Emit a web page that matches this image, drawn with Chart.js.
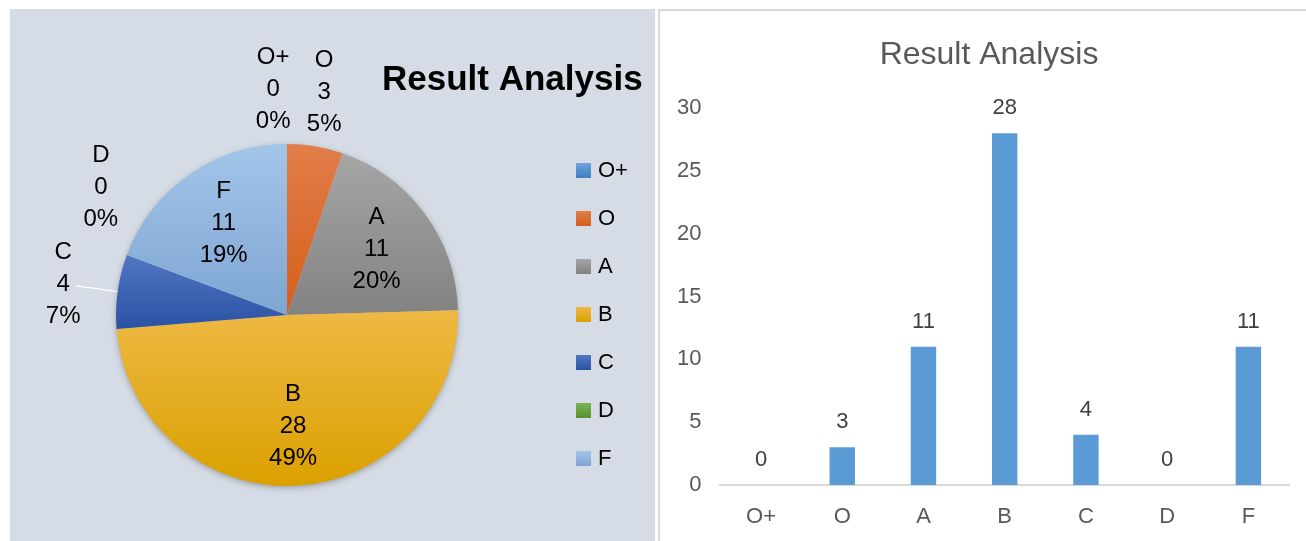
<!DOCTYPE html>
<html><head><meta charset="utf-8">
<script src="https://cdn.jsdelivr.net/npm/chart.js@4.4.0/dist/chart.umd.min.js"></script>
<style>
html,body{margin:0;padding:0;background:#fff;width:1306px;height:541px;overflow:hidden;}
#left{position:absolute;left:10px;top:9px;width:645px;height:532px;background:#d6dce5;}
#right{position:absolute;left:658px;top:9px;width:646px;height:530px;border-left:2px solid #d9d9d9;border-top:2px solid #d9d9d9;background:#fff;}
canvas{display:block;}
</style></head><body>
<div id="left"><canvas id="pie" width="645" height="532"></canvas></div>
<div id="right"><canvas id="bar" width="646" height="530"></canvas></div>
<script>
// ---- data ----
const categories = ['O+', 'O', 'A', 'B', 'C', 'D', 'F'];
const studentCounts = [0, 3, 11, 28, 4, 0, 11];
const percentLabels = ['0%', '5%', '20%', '49%', '7%', '0%', '19%'];
const yTicks = [0, 5, 10, 15, 20, 25, 30];
const chartTitle = 'Result Analysis';

// ---- styles ----
const sliceTop    = ['#6fa5da', '#e27d4a', '#a6a6a6', '#eeb944', '#5177c2', '#7ab450', '#a3c5e9'];
const sliceBottom = ['#3f7fc0', '#d45f1a', '#828282', '#dba000', '#2a52a4', '#578f31', '#7ea5d3'];
const FONT = "'Liberation Sans', Arial, sans-serif";
Chart.defaults.font.family = FONT;

function sliceBounds(chart, i) {
  const a = chart.chartArea;
  const cy = (a.top + a.bottom) / 2, R = Math.min(a.width, a.height) / 2;
  const total = studentCounts.reduce((s, v) => s + v, 0);
  let before = 0;
  for (let k = 0; k < i; k++) before += studentCounts[k];
  const s = -Math.PI / 2 + before / total * 2 * Math.PI;
  const e = s + studentCounts[i] / total * 2 * Math.PI;
  const ys = [cy, cy + R * Math.sin(s), cy + R * Math.sin(e)];
  for (const t of [-Math.PI / 2, Math.PI / 2, 3 * Math.PI / 2]) if (t >= s && t <= e) ys.push(cy + R * Math.sin(t));
  return [Math.min(...ys), Math.max(...ys)];
}

function sliceFill(c) {
  const i = c.dataIndex;
  const ch = c.chart;
  if (i === undefined || !ch.chartArea) return sliceTop[0];
  const [y0, y1] = sliceBounds(ch, i);
  const g = ch.ctx.createLinearGradient(0, y0, 0, Math.max(y1, y0 + 1));
  g.addColorStop(0, sliceTop[i]);
  g.addColorStop(1, sliceBottom[i]);
  return g;
}

const pieShadow = {
  id: 'pieShadow',
  beforeDatasetsDraw(chart) {
    const arc = chart.getDatasetMeta(0).data[0];
    if (!arc) return;
    const p = arc.getProps(['x', 'y', 'outerRadius'], true);
    const ctx = chart.ctx;
    ctx.save();
    ctx.shadowColor = 'rgba(0,0,0,0.35)';
    ctx.shadowBlur = 7;
    ctx.shadowOffsetY = 2;
    ctx.fillStyle = '#b8bec8';
    ctx.beginPath();
    ctx.arc(p.x, p.y, p.outerRadius - 1, 0, Math.PI * 2);
    ctx.fill();
    ctx.restore();
  }
};

const pieLabels = {
  id: 'pieLabels',
  afterDatasetsDraw(chart) {
    const ctx = chart.ctx;
    const meta = chart.getDatasetMeta(0);
    const total = studentCounts.reduce((s, v) => s + v, 0);
    const LH = 32, PADX = 16, PADY = 8;
    ctx.save();
    ctx.font = '24px ' + FONT;
    ctx.fillStyle = '#000';
    ctx.textAlign = 'center';
    ctx.textBaseline = 'middle';
    const items = meta.data.map((arc, i) => {
      const p = arc.getProps(['x', 'y', 'startAngle', 'endAngle', 'outerRadius'], true);
      const mid = (p.startAngle + p.endAngle) / 2;
      const lines = [categories[i], String(studentCounts[i]), percentLabels[i]];
      const w = Math.max(...lines.map(l => ctx.measureText(l).width));
      return { i, p, mid, lines, w, h: lines.length * LH - 8, inside: studentCounts[i] / total >= 0.1 };
    });
    items.filter(it => it.inside).forEach(it => {
      const r = it.p.outerRadius * 0.65;
      it.c = { x: it.p.x + r * Math.cos(it.mid), y: it.p.y + r * Math.sin(it.mid) };
    });
    const overlap = (c, it, q) => Math.abs(c.x - q.x) < (it.w + q.w) / 2 + PADX && Math.abs(c.y - q.y) < (it.h + q.h) / 2 + PADY;
    const placed = [];
    const outs = items.filter(it => !it.inside).sort((a, b) => studentCounts[b.i] - studentCounts[a.i]);
    for (const it of outs) {
      let ang = it.mid;
      const dist = it.p.outerRadius + 55;
      const pos = a => ({ x: it.p.x + dist * Math.cos(a), y: it.p.y + dist * Math.sin(a) });
      let c = pos(ang);
      let hit = placed.find(q => overlap(c, it, q));
      if (hit) {
        const dir = Math.sign(ang - hit.ang) || -1;
        let guard = 0;
        while (hit && guard++ < 240) {
          ang += dir * Math.PI / 360;
          c = pos(ang);
          hit = placed.find(q => overlap(c, it, q));
        }
      }
      placed.push({ x: c.x, y: c.y, w: it.w, h: it.h, ang });
      it.c = c;
      it.ang = ang;
      // leader line for side labels of non-empty slices
      if (studentCounts[it.i] > 0 && Math.abs(Math.cos(it.mid)) > 0.7) {
        const s = Math.sign(Math.cos(it.mid));
        const wm = ctx.measureText(it.lines[1]).width;
        ctx.save();
        ctx.strokeStyle = '#ffffff';
        ctx.lineWidth = 1.2;
        ctx.beginPath();
        ctx.moveTo(c.x - s * (wm / 2 + 6), c.y + 2);
        ctx.lineTo(it.p.x + it.p.outerRadius * Math.cos(it.mid), it.p.y + it.p.outerRadius * Math.sin(it.mid));
        ctx.stroke();
        ctx.restore();
      }
    }
    items.forEach(it => {
      it.lines.forEach((l, k) => ctx.fillText(l, it.c.x, it.c.y + (k - 1) * LH));
    });
    ctx.restore();
  }
};

const pieDecor = {
  id: 'pieDecor',
  afterDraw(chart) {
    const ctx = chart.ctx;
    ctx.save();
    ctx.font = 'bold 35px ' + FONT;
    ctx.fillStyle = '#000';
    ctx.textAlign = 'left';
    ctx.textBaseline = 'alphabetic';
    ctx.fillText(chartTitle, 372, 81);
    ctx.font = '22px ' + FONT;
    ctx.textBaseline = 'middle';
    categories.forEach((lab, i) => {
      const top = 154 + 48 * i;
      const g = ctx.createLinearGradient(0, top, 0, top + 15);
      g.addColorStop(0, sliceTop[i]);
      g.addColorStop(1, sliceBottom[i]);
      ctx.fillStyle = g;
      ctx.fillRect(566, top, 15, 15);
      ctx.fillStyle = '#000';
      ctx.fillText(lab, 588, top + 7.5);
    });
    ctx.restore();
  }
};

new Chart(document.getElementById('pie'), {
  type: 'pie',
  data: {
    labels: categories,
    datasets: [{ data: studentCounts, backgroundColor: sliceFill, borderWidth: 0, offset: 0, hoverOffset: 0 }]
  },
  options: {
    responsive: false,
    animation: false,
    events: [],
    layout: { padding: { left: 106, right: 197, top: 135, bottom: 55 } },
    plugins: { legend: { display: false }, tooltip: { enabled: false } }
  },
  plugins: [pieShadow, pieLabels, pieDecor]
});

const barLabels = {
  id: 'barLabels',
  afterDatasetsDraw(chart) {
    const ctx = chart.ctx;
    const meta = chart.getDatasetMeta(0);
    ctx.save();
    ctx.font = '22px ' + FONT;
    ctx.fillStyle = '#404040';
    ctx.textAlign = 'center';
    ctx.textBaseline = 'middle';
    meta.data.forEach((bar, i) => {
      const p = bar.getProps(['x', 'y'], true);
      ctx.fillText(String(studentCounts[i]), p.x, p.y - 25);
    });
    ctx.restore();
  },
  afterDraw(chart) {
    const ctx = chart.ctx;
    ctx.save();
    ctx.font = '32px ' + FONT;
    ctx.fillStyle = '#595959';
    ctx.textAlign = 'center';
    ctx.textBaseline = 'alphabetic';
    ctx.fillText(chartTitle, 329, 53);
    ctx.restore();
  }
};

new Chart(document.getElementById('bar'), {
  type: 'bar',
  data: {
    labels: categories,
    datasets: [{ data: studentCounts, backgroundColor: '#5b9bd5', borderWidth: 0, barPercentage: 0.313, categoryPercentage: 1 }]
  },
  options: {
    responsive: false,
    animation: false,
    events: [],
    layout: { padding: { left: 0, right: 17, top: 97, bottom: 0 } },
    plugins: { legend: { display: false }, tooltip: { enabled: false } },
    scales: {
      x: {
        grid: { display: false, drawTicks: false },
        border: { display: true, color: '#d9d9d9', width: 2 },
        ticks: { color: '#595959', font: { size: 22 }, padding: 19 },
        afterFit(s) { s.height = 56; }
      },
      y: {
        min: yTicks[0], max: yTicks[yTicks.length - 1],
        grid: { display: false, drawTicks: false },
        border: { display: false },
        ticks: { color: '#595959', font: { size: 22 }, padding: 19 },
        afterBuildTicks(s) { s.ticks = yTicks.map(v => ({ value: v })); },
        afterFit(s) { s.width = 60.4; }
      }
    }
  },
  plugins: [barLabels]
});
</script>
</body></html>
